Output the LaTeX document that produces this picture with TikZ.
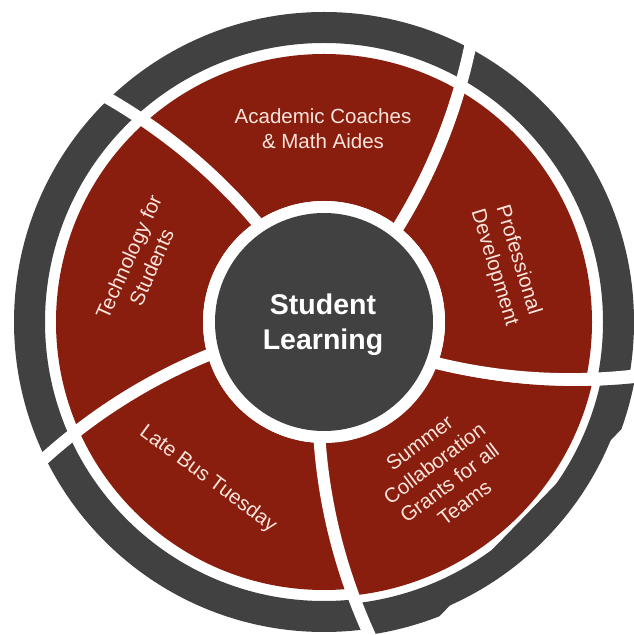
\documentclass[tikz,border=0pt]{standalone}
\usepackage{fontspec}
\setmainfont{Liberation Sans}
\definecolor{segred}{RGB}{138,30,14}
\definecolor{ringgray}{RGB}{65,65,65}
\definecolor{labeltxt}{RGB}{250,228,220}
\begin{document}
\begin{tikzpicture}[x=1pt,y=1pt,
  sep/.style={white,line width=12pt},
  lbl/.style={text=labeltxt,font=\fontsize{20.5}{25}\selectfont,align=center,inner sep=0pt},
  ctr/.style={text=white,font=\fontsize{28.5}{35}\selectfont\bfseries,align=center,inner sep=0pt}]
\useasboundingbox (0,0) rectangle (634,635);
\fill[white] (0,0) rectangle (634,635);
\clip (0,0) rectangle (634,635);
\coordinate (C) at (324,313);
% rings
\fill[ringgray,even odd rule] (C) circle[radius=310] (C) circle[radius=279];
\fill[segred,even odd rule] (C) circle[radius=268] (C) circle[radius=121];
% Summer segment, pushed outward
\fill[white] plot[domain=112:345,samples=30,variable=\r] ({324+\r*cos(268+10*(\r-121)/190)},{313+\r*sin(268+10*(\r-121)/190)})
  -- plot[domain=0:1,samples=30,variable=\t] ({324+(345-233*\t)*cos(340+10*(224-233*\t)/190)},{313+(345-233*\t)*sin(340+10*(224-233*\t)/190)}) -- cycle;
\begin{scope}[shift={(5.5,-7)}]
  \clip plot[domain=112:345,samples=30,variable=\r] ({324+\r*cos(268+10*(\r-121)/190)},{313+\r*sin(268+10*(\r-121)/190)})
  -- plot[domain=0:1,samples=30,variable=\t] ({324+(345-233*\t)*cos(340+10*(224-233*\t)/190)},{313+(345-233*\t)*sin(340+10*(224-233*\t)/190)}) -- cycle;
  \fill[ringgray,even odd rule] (C) circle[radius=316] (C) circle[radius=283];
  \fill[segred,even odd rule] (C) circle[radius=275] (C) circle[radius=113];
\end{scope}
% white separators
\foreach \a in {52,124,196,268,340} {
  \draw[sep] plot[domain=113:340,samples=40,variable=\r] ({324+\r*cos(\a+10*(\r-121)/190)},{313+\r*sin(\a+10*(\r-121)/190)});
}
% hub
\fill[white] (C) circle[radius=121];
\fill[ringgray] (C) circle[radius=109];
% labels
\node[ctr] (hub) at (323,310) {Student\\Learning};
\node[lbl] (acad) at (323,506) {Academic Coaches\\\& Math Aides};
\node[lbl,rotate=-73] (prof) at (506,371) {Professional\\Development};
\node[lbl,rotate=66] (tech) at (140,373) {Technology for\\Students};
\node[lbl,rotate=-36.5] (late) at (208,156) {Late Bus Tuesday};
\node[lbl,rotate=37] (summ) at (442,162) {Summer\\Collaboration\\Grants for all\\Teams};
\end{tikzpicture}
\end{document}
